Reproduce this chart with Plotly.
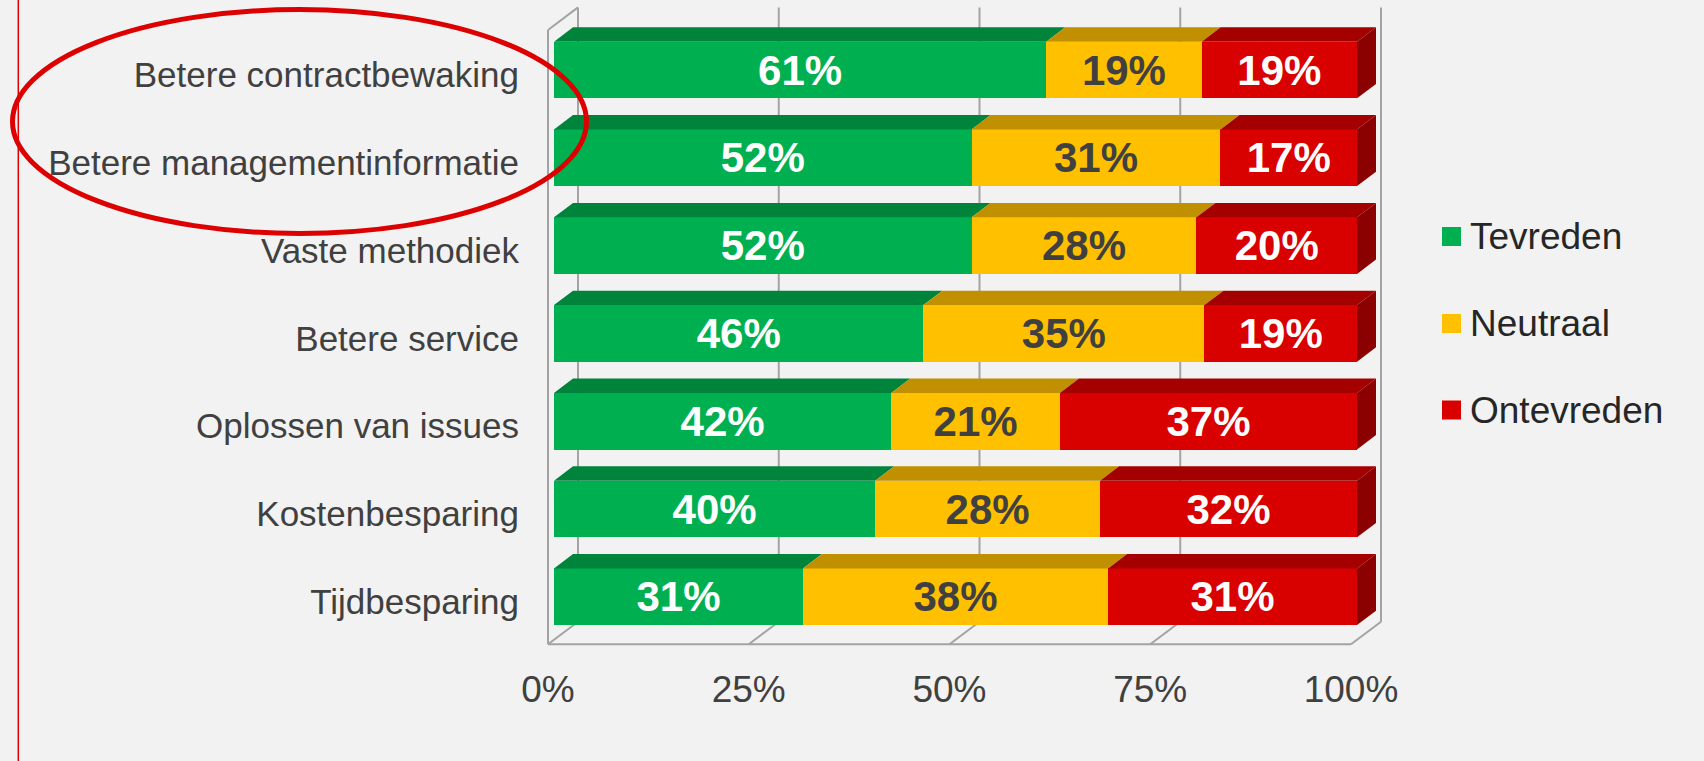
import plotly.graph_objects as go

# ---------------- data ----------------
categories = ["Betere contractbewaking", "Betere managementinformatie", "Vaste methodiek",
              "Betere service", "Oplossen van issues", "Kostenbesparing", "Tijdbesparing"]
tevreden = [61.3, 52, 52, 46, 42, 40, 31]
neutraal = [19.35, 31, 28, 35, 21, 28, 38]
ontevreden = [19.35, 17, 20, 19, 37, 32, 31]
series_names = ["Tevreden", "Neutraal", "Ontevreden"]
tick_values = [0, 0.25, 0.5, 0.75, 1.0]
tick_labels = ["0%", "25%", "50%", "75%", "100%"]

series = [tevreden, neutraal, ontevreden]

# ---------------- style / geometry ----------------
FRONT = ["#00b050", "#ffc000", "#d90000"]
TOP = ["#00843c", "#c09000", "#a50000"]
SIDE = "#8b0000"
LABEL_COL = ["#ffffff", "#404040", "#ffffff"]
GRID = "#a3a3a3"
FONT = "Liberation Sans, Arial, sans-serif"

FIG_W, FIG_H = 1704, 761
L, R, T, B = 540, 314, 0, 106
PW, PH = FIG_W - L - R, FIG_H - T - B
X0_PX, PXU = 554, 803.0      # pixel of value 0 and pixels per unit (100%)
Y0_PX, PYU = 70, 87.8        # pixel of first row centre and pixels per row
xrange_ = [(L - X0_PX) / PXU, (L + PW - X0_PX) / PXU]
yrange_ = [(T + PH - Y0_PX) / PYU, (T - Y0_PX) / PYU]

BAR_W = 0.645
DX, DY = 19 / PXU, 14.4 / PYU          # bar depth
FX0 = -6 / PXU                          # front edge of floor/wall
WDX, WDY = 30 / PXU, 22.6 / PYU         # wall depth
WALL_TOP_F = (30 - Y0_PX) / PYU
FLOOR_F = (644.3 - Y0_PX) / PYU
YLABEL_OFF = 5 / PYU                    # category labels sit slightly low


def paper_x(px):
    return (px - L) / PW


def paper_y(py):
    return 1 - (py - T) / PH


n = len(categories)
rows = list(range(n))
fig = go.Figure()

# front faces (stacked bars)
for k, vals in enumerate(series):
    fig.add_trace(go.Bar(
        name=series_names[k], orientation="h",
        x=[v / 100 for v in vals], y=rows, width=BAR_W,
        marker=dict(color=FRONT[k], line=dict(width=0)),
        text=[f"<b>{round(v)}%</b>" for v in vals],
        textposition="inside", insidetextanchor="middle", textangle=0,
        constraintext="none",
        textfont=dict(family=FONT, size=42, color=LABEL_COL[k]),
        hoverinfo="skip", showlegend=False,
    ))

# top faces and right side faces (pseudo 3-D)
cum_prev = [0.0] * n
for k, vals in enumerate(series):
    xs, ys = [], []
    sx, sy = [], []
    for i in rows:
        x0 = cum_prev[i]
        x1 = x0 + vals[i] / 100
        yt = i - BAR_W / 2
        yb = i + BAR_W / 2
        xs += [x0, x1, x1 + DX, x0 + DX, x0, None]
        ys += [yt, yt, yt - DY, yt - DY, yt, None]
        if k == len(series) - 1:
            sx += [x1, x1 + DX, x1 + DX, x1, x1, None]
            sy += [yt, yt - DY, yb - DY, yb, yt, None]
        cum_prev[i] = x1
    fig.add_trace(go.Scatter(x=xs, y=ys, mode="lines", fill="toself",
                             fillcolor=TOP[k], line=dict(width=0),
                             hoverinfo="skip", showlegend=False))
    if sx:
        fig.add_trace(go.Scatter(x=sx, y=sy, mode="lines", fill="toself",
                                 fillcolor=SIDE, line=dict(width=0),
                                 hoverinfo="skip", showlegend=False))

shapes = []
ln = dict(color=GRID, width=2)
# back-wall gridlines
for t in tick_values:
    shapes.append(dict(type="line", xref="x", yref="y", layer="below",
                       x0=FX0 + WDX + t, x1=FX0 + WDX + t,
                       y0=WALL_TOP_F - WDY, y1=FLOOR_F - WDY, line=ln))
    # floor depth lines
    shapes.append(dict(type="line", xref="x", yref="y", layer="below",
                       x0=FX0 + t, x1=FX0 + WDX + t,
                       y0=FLOOR_F, y1=FLOOR_F - WDY, line=ln))
# left wall
shapes.append(dict(type="line", xref="x", yref="y", layer="below",
                   x0=FX0, x1=FX0, y0=WALL_TOP_F, y1=FLOOR_F, line=ln))
shapes.append(dict(type="line", xref="x", yref="y", layer="below",
                   x0=FX0, x1=FX0 + WDX, y0=WALL_TOP_F, y1=WALL_TOP_F - WDY, line=ln))
# floor front edge
shapes.append(dict(type="line", xref="x", yref="y", layer="below",
                   x0=FX0, x1=FX0 + tick_values[-1], y0=FLOOR_F, y1=FLOOR_F, line=ln))

# red margin line and highlight ellipse
shapes.append(dict(type="line", xref="paper", yref="paper", layer="above",
                   x0=paper_x(18.3), x1=paper_x(18.3), y0=paper_y(0), y1=paper_y(FIG_H),
                   line=dict(color="#e00000", width=1.5)))
shapes.append(dict(type="circle", xref="paper", yref="paper", layer="above",
                   x0=paper_x(12.5), x1=paper_x(586.5), y0=paper_y(233.5), y1=paper_y(9.5),
                   line=dict(color="#dd0000", width=5)))

# legend (manual)
annotations = []
leg_y = [236.5, 323.5, 410]
for k, name in enumerate(series_names):
    shapes.append(dict(type="rect", xref="paper", yref="paper", layer="above",
                       x0=paper_x(1442), x1=paper_x(1461),
                       y0=paper_y(leg_y[k] + 9.5), y1=paper_y(leg_y[k] - 9.5),
                       fillcolor=FRONT[k], line=dict(width=0)))
    annotations.append(dict(xref="paper", yref="paper", x=paper_x(1468), y=paper_y(leg_y[k]),
                            xanchor="left", yanchor="middle", showarrow=False, text=name,
                            font=dict(family=FONT, size=37, color="#262626")))

fig.update_layout(
    width=FIG_W, height=FIG_H, autosize=False,
    margin=dict(l=L, r=R, t=T, b=B, pad=0),
    paper_bgcolor="#f2f2f2", plot_bgcolor="rgba(0,0,0,0)",
    barmode="stack", showlegend=False,
    shapes=shapes, annotations=annotations,
    xaxis=dict(range=xrange_, tickvals=[FX0 + t for t in tick_values], ticktext=tick_labels,
               tickfont=dict(family=FONT, size=37, color="#404040"),
               showgrid=False, zeroline=False, showline=False, ticks="",
               automargin=False, ticklabelstandoff=9),
    yaxis=dict(range=yrange_, tickvals=[r + YLABEL_OFF for r in rows], ticktext=categories,
               tickfont=dict(family=FONT, size=35, color="#404040"),
               showgrid=False, zeroline=False, showline=False, ticks="",
               automargin=False, ticklabelstandoff=20),
)

fig.write_html("out.html", config={"displayModeBar": False},
               post_script="document.body.style.margin='0';")
